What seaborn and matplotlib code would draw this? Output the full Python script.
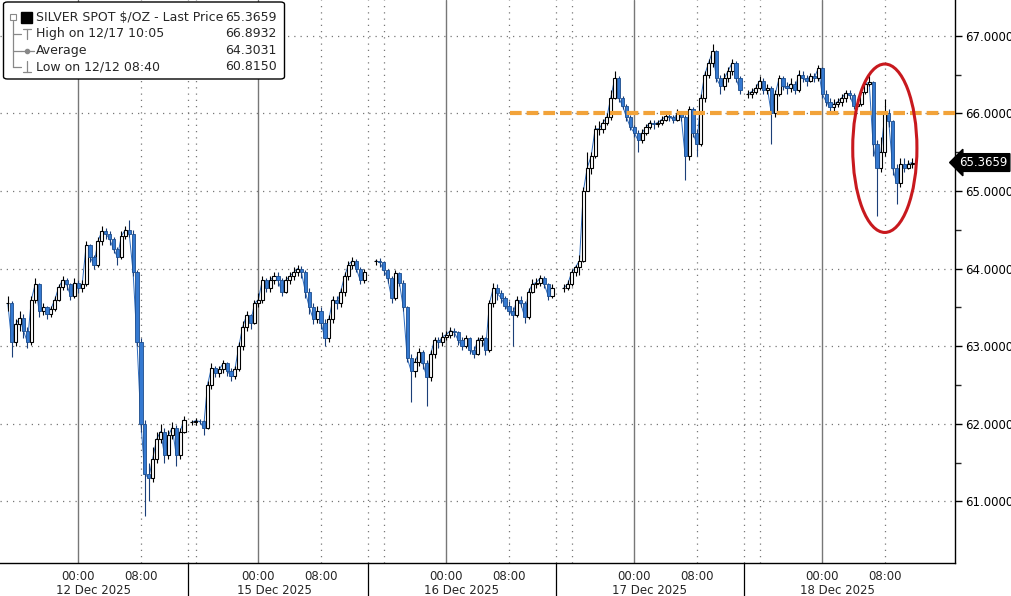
import numpy as np
import pandas as pd
import matplotlib
matplotlib.use('Agg')
import matplotlib.pyplot as plt
import matplotlib.transforms as mtransforms
from matplotlib.patches import Ellipse, FancyBboxPatch, Rectangle
from matplotlib.lines import Line2D
import seaborn as sns

# ---- data ----
# x axis is "chart hours": 0.5h bars, daily break and weekend squeezed out
sess_start = [1.0, 24.5, 48.0, 72.0, 95.5]
sess_end = [23.5, 46.5, 70.5, 94.5, 116.5]

close_12dec = [63.55, 63.05, 63.28, 63.36, 63.20, 63.05, 63.60, 63.80, 63.45, 63.50,
               63.42, 63.48, 63.60, 63.76, 63.85, 63.80, 63.65, 63.82, 63.75, 63.80,
               64.30, 64.15, 64.05, 64.35, 64.48, 64.45, 64.38, 64.25, 64.15, 64.42,
               64.50, 64.45, 63.95, 63.05, 62.00, 61.35, 61.30, 61.55, 61.80, 61.90,
               61.60, 61.85, 61.95, 61.60, 61.90, 62.05]
high_12dec = [63.65, 63.58, 63.35, 63.45, 63.42, 63.25, 63.65, 63.88, 63.82, 63.55,
              63.52, 63.52, 63.65, 63.80, 63.90, 63.88, 63.82, 63.88, 63.85, 63.85,
              64.35, 64.32, 64.18, 64.40, 64.55, 64.52, 64.48, 64.40, 64.28, 64.48,
              64.55, 64.62, 64.50, 63.98, 63.10, 62.05, 61.50, 61.70, 61.90, 62.00,
              61.95, 61.92, 62.02, 61.98, 61.95, 62.10]
low_12dec = [63.45, 62.86, 63.00, 63.20, 63.10, 62.98, 63.02, 63.55, 63.38, 63.40,
             63.35, 63.38, 63.45, 63.58, 63.72, 63.72, 63.60, 63.62, 63.68, 63.70,
             63.78, 64.08, 64.00, 64.02, 64.30, 64.38, 64.30, 64.20, 64.05, 64.12,
             64.38, 64.40, 63.90, 63.00, 61.90, 60.815, 61.00, 61.25, 61.50, 61.75,
             61.50, 61.55, 61.80, 61.45, 61.55, 61.88]

close_15dec = [62.02, 62.04, 62.03, 61.95, 62.50, 62.72, 62.65, 62.70, 62.78, 62.68,
               62.62, 62.70, 63.00, 63.25, 63.40, 63.30, 63.55, 63.60, 63.85, 63.75,
               63.85, 63.90, 63.85, 63.70, 63.85, 63.90, 63.95, 64.00, 63.95, 63.70,
               63.50, 63.35, 63.45, 63.30, 63.10, 63.35, 63.60, 63.55, 63.70, 63.90,
               64.05, 64.10, 64.00, 63.85, 63.95]
high_15dec = [62.05, 62.07, 62.06, 62.05, 62.55, 62.78, 62.75, 62.75, 62.82, 62.80,
              62.72, 62.75, 63.05, 63.32, 63.45, 63.42, 63.60, 63.68, 63.90, 63.88,
              63.90, 63.95, 63.95, 63.88, 63.90, 63.95, 64.02, 64.05, 64.03, 63.98,
              63.75, 63.55, 63.52, 63.50, 63.35, 63.40, 63.65, 63.65, 63.75, 63.95,
              64.10, 64.15, 64.12, 64.02, 64.00]
low_15dec = [61.98, 61.99, 62.00, 61.85, 61.93, 62.45, 62.60, 62.60, 62.66, 62.62,
             62.55, 62.58, 62.68, 62.95, 63.20, 63.22, 63.28, 63.50, 63.55, 63.70,
             63.70, 63.80, 63.78, 63.65, 63.68, 63.80, 63.85, 63.90, 63.88, 63.62,
             63.42, 63.28, 63.30, 63.22, 63.00, 63.05, 63.30, 63.48, 63.50, 63.65,
             63.85, 64.00, 63.95, 63.80, 63.82]

close_16dec = [64.10, 64.08, 63.98, 63.88, 63.62, 63.94, 63.82, 63.50, 62.85, 62.68,
               62.80, 62.92, 62.78, 62.60, 62.90, 63.08, 63.05, 63.12, 63.15, 63.20,
               63.18, 63.08, 63.00, 63.10, 62.95, 62.90, 63.08, 63.10, 62.95, 63.55,
               63.75, 63.68, 63.62, 63.52, 63.45, 63.40, 63.60, 63.55, 63.38, 63.70,
               63.80, 63.82, 63.88, 63.80, 63.65, 63.75]
high_16dec = [64.12, 64.14, 64.10, 64.00, 63.90, 63.98, 63.96, 63.85, 63.52, 62.90,
              62.85, 62.98, 62.95, 62.82, 62.95, 63.12, 63.12, 63.18, 63.20, 63.25,
              63.24, 63.20, 63.12, 63.15, 63.12, 63.00, 63.12, 63.15, 63.12, 63.60,
              63.82, 63.80, 63.72, 63.65, 63.58, 63.50, 63.65, 63.65, 63.58, 63.75,
              63.86, 63.88, 63.92, 63.90, 63.82, 63.80]
low_16dec = [64.05, 64.02, 63.92, 63.82, 63.55, 63.60, 63.78, 63.45, 62.80, 62.28,
             62.60, 62.75, 62.70, 62.23, 62.55, 62.85, 62.98, 63.00, 63.08, 63.10,
             63.12, 63.02, 62.95, 62.98, 62.90, 62.85, 62.88, 63.00, 62.88, 62.92,
             63.50, 63.60, 63.55, 63.48, 63.40, 63.00, 63.38, 63.50, 63.30, 63.35,
             63.68, 63.75, 63.78, 63.75, 63.60, 63.62]

close_17dec = [63.75, 63.80, 63.95, 64.02, 64.10, 65.00, 65.30, 65.45, 65.80, 65.80,
               65.88, 65.95, 66.20, 66.45, 66.20, 66.10, 65.95, 65.82, 65.75, 65.65,
               65.75, 65.82, 65.88, 65.86, 65.88, 65.92, 65.96, 65.95, 65.92, 66.00,
               65.95, 65.45, 66.05, 65.75, 65.60, 66.20, 66.50, 66.65, 66.80, 66.45,
               66.35, 66.45, 66.55, 66.65, 66.45, 66.30]
high_17dec = [63.80, 63.85, 64.00, 64.05, 64.18, 65.05, 65.50, 65.50, 65.85, 65.90,
              65.93, 66.00, 66.30, 66.55, 66.48, 66.22, 66.12, 65.98, 65.85, 65.78,
              65.80, 65.86, 65.92, 65.92, 65.92, 65.96, 66.00, 66.00, 65.98, 66.05,
              66.03, 65.98, 66.10, 66.08, 65.80, 66.25, 66.55, 66.70, 66.8932, 66.82,
              66.50, 66.52, 66.60, 66.70, 66.68, 66.48]
low_17dec = [63.70, 63.72, 63.78, 63.90, 63.92, 64.08, 65.10, 65.22, 65.42, 65.72,
             65.75, 65.85, 65.92, 66.18, 66.15, 66.05, 65.90, 65.78, 65.70, 65.50,
             65.62, 65.72, 65.80, 65.80, 65.82, 65.85, 65.90, 65.90, 65.88, 65.90,
             65.90, 65.14, 65.40, 65.70, 65.45, 65.58, 66.15, 66.45, 66.60, 66.40,
             66.25, 66.30, 66.40, 66.50, 66.40, 66.25]

close_18dec = [66.25, 66.28, 66.32, 66.42, 66.30, 66.32, 66.00, 66.25, 66.45, 66.35,
               66.32, 66.38, 66.30, 66.50, 66.45, 66.42, 66.48, 66.46, 66.58, 66.25,
               66.15, 66.08, 66.12, 66.15, 66.20, 66.26, 66.24, 66.10, 66.12, 66.28,
               66.38, 66.40, 65.60, 65.30, 65.50, 66.00, 65.90, 65.30, 65.10, 65.35,
               65.30, 65.35, 65.3659]
high_18dec = [66.30, 66.32, 66.38, 66.48, 66.45, 66.38, 66.35, 66.30, 66.50, 66.48,
              66.40, 66.45, 66.42, 66.56, 66.55, 66.50, 66.52, 66.52, 66.62, 66.60,
              66.30, 66.20, 66.18, 66.20, 66.25, 66.30, 66.30, 66.26, 66.18, 66.32,
              66.42, 66.50, 66.42, 65.65, 65.70, 66.18, 66.05, 65.92, 65.35, 65.42,
              65.42, 65.40, 65.42]
low_18dec = [66.20, 66.20, 66.25, 66.30, 66.25, 66.25, 65.60, 65.95, 66.22, 66.30,
             66.25, 66.28, 66.25, 66.28, 66.40, 66.35, 66.40, 66.40, 66.42, 66.20,
             66.10, 66.02, 66.02, 66.08, 66.10, 66.15, 66.18, 66.05, 66.05, 66.10,
             66.25, 66.35, 65.45, 64.68, 65.25, 65.45, 65.82, 65.20, 64.83, 65.05,
             65.25, 65.28, 65.30]

closes = [close_12dec, close_15dec, close_16dec, close_17dec, close_18dec]
highs = [high_12dec, high_15dec, high_16dec, high_17dec, high_18dec]
lows = [low_12dec, low_15dec, low_16dec, low_17dec, low_18dec]

last_price = 65.3659
level = 66.0
level_from = 65.1

midnight = [10, 33, 57, 81, 105]
eight_am = [18, 41, 65, 89, 113]
day_names = ['12 Dec 2025', '15 Dec 2025', '16 Dec 2025', '17 Dec 2025', '18 Dec 2025']
day_breaks = [24, 47, 71, 95]
day_opens = [25, 49, 73, 97]
four_hr = [2, 6, 14, 22, 25, 29, 37, 45, 49, 53, 61, 69, 73, 77, 85, 93, 97, 101, 109, 117]
y_ticks = [61, 62, 63, 64, 65, 66, 67]

legend_labels = ['SILVER SPOT $/OZ - Last Price', 'High on 12/17 10:05', 'Average', 'Low on 12/12 08:40']
legend_values = ['65.3659', '66.8932', '64.3031', '60.8150']

# ---- build frame ----
frames = []
for i in range(len(closes)):
    c = np.array(closes[i])
    frames.append(pd.DataFrame({
        't': np.arange(sess_start[i], sess_end[i] + 0.25, 0.5),
        'open': np.concatenate([[c[0]], c[:-1]]),
        'close': c, 'high': highs[i], 'low': lows[i], 'session': i}))
df = pd.concat(frames, ignore_index=True)
up = df['close'] >= df['open']

sns.set_style('white')
plt.rcParams['font.family'] = ['DejaVu Sans']
narrow = ['Liberation Sans Narrow', 'DejaVu Sans']

W, H = 1012, 596
fig = plt.figure(figsize=(W / 100, H / 100), dpi=100)
ax = fig.add_axes([0, 33.3 / H, 955.3 / W, 562.7 / H])
ax.set_xlim(0, 122.0)
ax.set_ylim(60.21, 67.46)

# grid
for y in y_ticks:
    ax.axhline(y, color='#777777', lw=0.9, ls=(0, (1, 4)), zorder=0)
for x in midnight:
    ax.axvline(x, color='#777777', lw=1.0, zorder=0)
for x in eight_am + day_breaks + day_opens:
    ax.axvline(x, color='#777777', lw=0.9, ls=(0, (1, 4)), zorder=0)

# price: close line + candles (up hollow black, down blue)
sns.lineplot(data=df, x='t', y='close', units='session', estimator=None,
             color='#2d6cc0', lw=0.7, ax=ax, zorder=2)
ax.vlines(df.loc[up, 't'], df.loc[up, 'low'], df.loc[up, 'high'], color='black', lw=0.8, zorder=2)
ax.vlines(df.loc[~up, 't'], df.loc[~up, 'low'], df.loc[~up, 'high'], color='#1b3f78', lw=0.8, zorder=2)
ax.bar(df.loc[up, 't'], df.loc[up, 'close'] - df.loc[up, 'open'], bottom=df.loc[up, 'open'],
       width=0.40, color='white', edgecolor='black', lw=0.8, zorder=3)
ax.bar(df.loc[~up, 't'], df.loc[~up, 'close'] - df.loc[~up, 'open'], bottom=df.loc[~up, 'open'],
       width=0.40, color='#3479d1', edgecolor='#1c4c8c', lw=0.6, zorder=3)

# annotations
ax.plot([level_from, 122.0], [level, level], color='#f2a33a', lw=3.0, dashes=(2.8, 1.2), zorder=4)
ax.add_patch(Ellipse((113.0, 65.55), 8.2, 2.17, fill=False, ec='#c8191e', lw=2.2, zorder=5))

# axes styling
for s in ['left', 'top']:
    ax.spines[s].set_visible(False)
for s in ['right', 'bottom']:
    ax.spines[s].set_color('black')
    ax.spines[s].set_linewidth(1.0)
ax.yaxis.tick_right()
ax.set_yticks(y_ticks)
ax.set_yticklabels(['%.4f' % v for v in y_ticks])
ax.set_yticks(np.array(y_ticks[:-1]) + 0.5, minor=True)
ax.tick_params(axis='y', which='major', length=5, width=1, pad=2, labelsize=8.5, colors='black')
ax.tick_params(axis='y', which='minor', length=4, width=1)
ax.set_xticks(midnight + eight_am)
ax.set_xticklabels(['00:00'] * 5 + ['08:00'] * 5, family=narrow)
ax.set_xticks(four_hr, minor=True)
ax.tick_params(axis='x', which='both', length=4, width=1, pad=1, labelsize=8.5)
ax.set_xlabel('')
ax.set_ylabel('')

tr = mtransforms.blended_transform_factory(ax.transData, ax.transAxes)
for x in day_breaks:
    ax.plot([x, x], [0, -33.3 / 562.7], color='black', lw=0.9, transform=tr, clip_on=False)
for x, name in zip(midnight, day_names):
    ax.text(x + 2, -27.5 / 562.7, name, transform=tr, ha='center', va='center', fontsize=8.5,
            family=narrow)

tr2 = mtransforms.blended_transform_factory(ax.transAxes, ax.transData)
ax.text(1.004, last_price, '%.4f' % last_price, transform=tr2, ha='left', va='center',
        fontsize=8.5, color='white',
        bbox=dict(boxstyle='larrow,pad=0.2', fc='black', ec='black'))

# legend box (figure pixels)
def fx(x):
    return x / W

def fy(y):
    return 1 - y / H

fig.add_artist(FancyBboxPatch((fx(3.5), fy(79)), fx(281), 77 / H,
                              boxstyle='round,pad=0,rounding_size=0.004',
                              transform=fig.transFigure, ec='black', fc='white', lw=1.0, zorder=10))
row_y = [17.3, 33.8, 50.7, 67.0]
for lab, val, y in zip(legend_labels, legend_values, row_y):
    fig.text(fx(36), fy(y), lab, ha='left', va='center', fontsize=9, zorder=11)
    fig.text(fx(277), fy(y), val, ha='right', va='center', fontsize=9, zorder=11)

def fline(xs, ys, c='#888888', lw=0.9):
    fig.add_artist(Line2D([fx(v) for v in xs], [fy(v) for v in ys], color=c, lw=lw,
                          transform=fig.transFigure, zorder=11))

fline([13, 13], [21, 67])
for y in row_y[1:]:
    fline([13, 21], [y, y])
fig.add_artist(Rectangle((fx(10), fy(20)), fx(6), 6 / H, fill=True, fc='white', ec='#888888',
                         lw=0.8, transform=fig.transFigure, zorder=12))
fline([11.5, 14.5], [17, 17])
fig.add_artist(Rectangle((fx(21), fy(23)), fx(11), 11 / H, fc='black', ec='black',
                         transform=fig.transFigure, zorder=12))
fline([23, 31], [28.5, 28.5])
fline([27, 27], [28.5, 39])
fline([21, 34], [50.7, 50.7])
fig.add_artist(Line2D([fx(27.5)], [fy(50.7)], marker='o', ms=3, color='#888888',
                      transform=fig.transFigure, zorder=12))
fline([27, 27], [61, 72])
fline([23, 31], [72, 72])

fig.savefig('out.png', dpi=100)
